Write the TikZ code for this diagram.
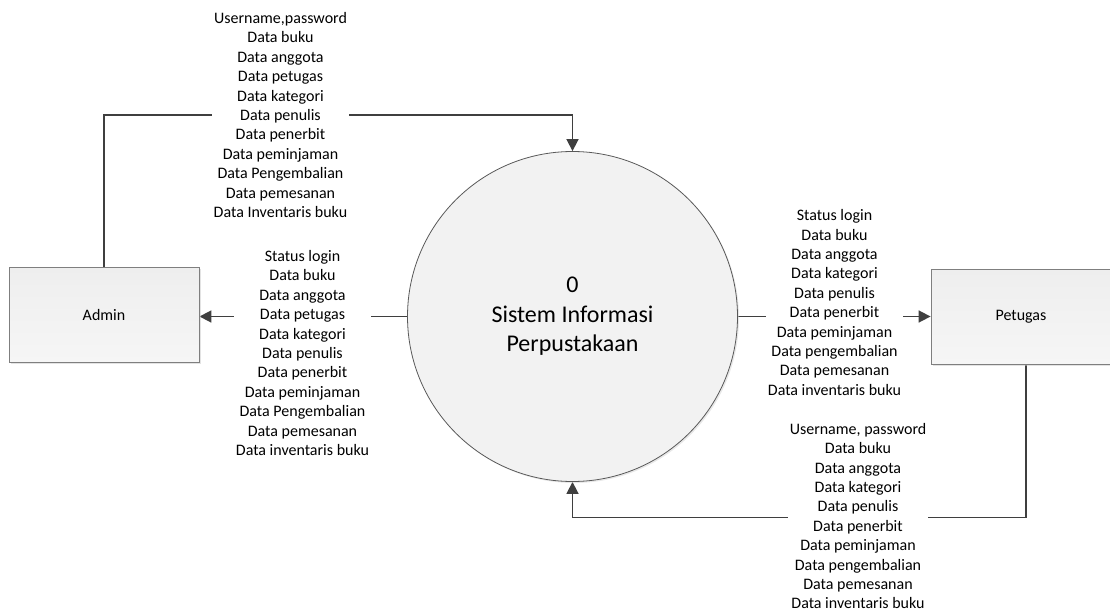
\documentclass[tikz,border=0pt]{standalone}
\usepackage{fontspec}
\setmainfont{Carlito}
\usetikzlibrary{arrows.meta,shadows}
\definecolor{linec}{HTML}{3F3F3F}
\definecolor{boxline}{HTML}{7F7F7F}
\definecolor{circline}{HTML}{595959}
\definecolor{fillc}{HTML}{F2F2F2}
\definecolor{filltop}{HTML}{EEEEEE}
\definecolor{fillbot}{HTML}{F6F6F6}
\pgfdeclarelayer{bg}
\pgfsetlayers{bg,main}
\begin{document}
\begin{tikzpicture}[x=1pt,y=-1pt,
  entity/.style={draw=boxline, line width=0.8pt, top color=filltop, bottom color=fillbot,
    minimum width=190pt, minimum height=95pt, inner sep=0pt,
    font=\fontsize{16}{19.4}\selectfont,
    drop shadow={shadow xshift=1.5pt,shadow yshift=-1.5pt,fill=black!22}},
  proc/.style={circle, draw=circline, line width=0.8pt, fill=fillc, minimum size=330pt, inner sep=0pt,
    align=center, font=\fontsize{24}{29.5}\selectfont,
    drop shadow={shadow xshift=1.5pt,shadow yshift=-1.5pt,fill=black!18}},
  flowlbl/.style={fill=white, inner xsep=1.5pt, inner ysep=0pt, align=center,
    font=\fontsize{16}{19.4}\selectfont},
  flow/.style={draw=linec, line width=1.6pt, -{Triangle[length=12pt,width=12pt]}}]

\useasboundingbox (0,0) rectangle (1110,610);

\node[entity] (admin) at (104,314.5) {Admin};
\node[entity, minimum width=180pt] (pet) at (1021,316.5) {Petugas};
\node[proc] (sys) at (572.5,316.5) {0\\Sistem Informasi\\Perpustakaan};

\node[flowlbl] (l1) at (280.5,115) {Username,password\\Data buku\\Data anggota\\Data petugas\\Data kategori\\Data penulis\\Data penerbit\\Data peminjaman\\Data Pengembalian\\Data pemesanan\\Data Inventaris buku};
\node[flowlbl] (l2) at (302.5,353) {Status login\\Data buku\\Data anggota\\Data petugas\\Data kategori\\Data penulis\\Data penerbit\\Data peminjaman\\Data Pengembalian\\Data pemesanan\\Data inventaris buku};
\node[flowlbl] (l3) at (834.5,302.5) {Status login\\Data buku\\Data anggota\\Data kategori\\Data penulis\\Data penerbit\\Data peminjaman\\Data pengembalian\\Data pemesanan\\Data inventaris buku};
\node[flowlbl] (l4) at (858,516) {Username, password\\Data buku\\Data anggota\\Data kategori\\Data penulis\\Data penerbit\\Data peminjaman\\Data pengembalian\\Data pemesanan\\Data inventaris buku};

\coordinate (tc) at (572.5,115);
\coordinate (bc) at (1026,517.5);

\begin{pgfonlayer}{bg}
\draw[flow] (admin.north) |- (tc) -- (sys.north);
\draw[flow] (sys.west) -- (sys.west -| admin.east);
\draw[flow] (sys.east) -- (sys.east -| pet.west);
\draw[flow] (pet.south -| bc) -- (bc) -| (sys.south);
\end{pgfonlayer}
\end{tikzpicture}
\end{document}
